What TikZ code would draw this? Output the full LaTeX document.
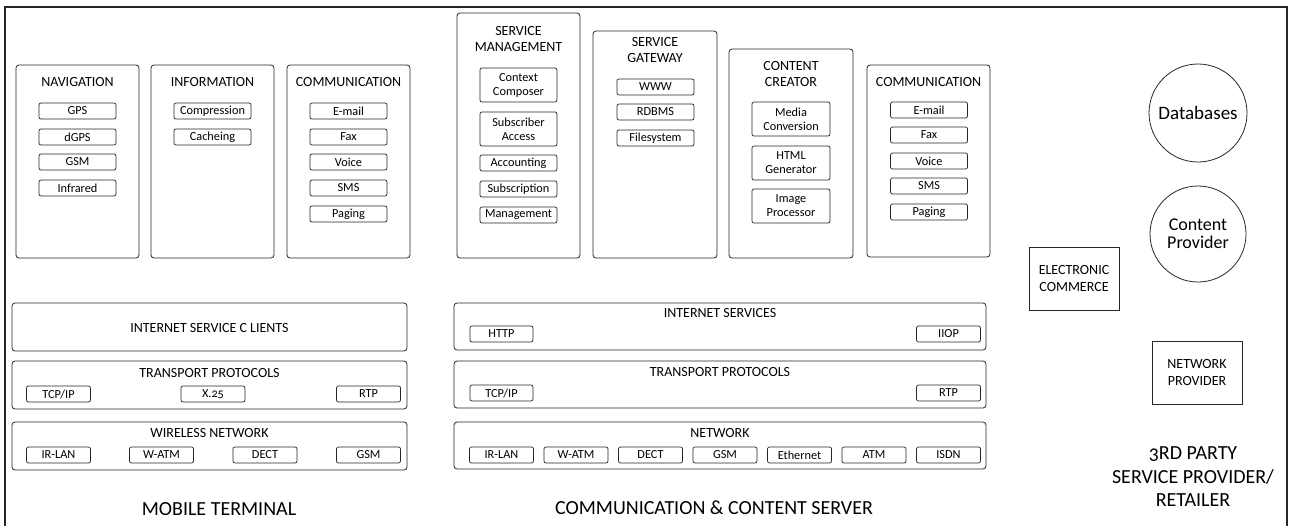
\documentclass[tikz,border=0pt]{standalone}
\usepackage{fontspec}
\setmainfont[Numbers=OldStyle]{Carlito}
\usepackage{tikz}
\usepackage{xcolor}

\tikzset{
  block/.style={draw=black!85, line width=0.8pt, rounded corners=3pt, inner sep=0pt},
  item/.style={draw=black!85, line width=0.7pt, rounded corners=2pt, minimum width=77, minimum height=16, inner sep=0pt, align=center, font=\fontsize{12.3}{14}\selectfont},
  tallitem/.style={item, minimum height=34},
  layeritem/.style={item, minimum width=64},
  title/.style={align=center, inner sep=0pt, font=\fontsize{14}{16}\selectfont},
  caption/.style={align=center, inner sep=0pt, font=\fontsize{20}{23.5}\selectfont},
  party/.style={draw=black!85, line width=0.8pt, inner sep=0pt, align=center, font=\fontsize{14}{17}\selectfont}
}

\begin{document}
\begin{tikzpicture}[x=1pt,y=-1pt]
\useasboundingbox (0,0) rectangle (1289,525);
\draw [line width=1.3pt,black!85] (5,527) -- (5,7) -- (1287,7) -- (1287,527);

% mobile terminal, applications
\node [block,minimum width=123,minimum height=193] (nav) at (77.5,161.5) {};
\node [title] (navtitle) at (77.5,82) {NAVIGATION};
\node [item] (gps) at (77.5,111) {GPS};
\node [item] (dgps) at (77.5,137) {dGPS};
\node [item] (gsmnav) at (77.5,162) {GSM};
\node [item] (infrared) at (77.5,188) {Infrared};

\node [block,minimum width=123,minimum height=193] (info) at (212.5,161.5) {};
\node [title] (infotitle) at (212.5,82) {INFORMATION};
\node [item] (compression) at (212.5,111) {Compression};
\node [item] (cacheing) at (212.5,137) {Cacheing};

\node [block,minimum width=123,minimum height=193] (comml) at (348.5,161.5) {};
\node [title] (commltitle) at (348.5,82) {COMMUNICATION};
\node [item] (emaill) at (348.5,111) {E-mail};
\node [item] (faxl) at (348.5,137) {Fax};
\node [item] (voicel) at (348.5,162) {Voice};
\node [item] (smsl) at (348.5,188) {SMS};
\node [item] (pagingl) at (348.5,214) {Paging};

% mobile terminal, layers
\node [block,minimum width=395,minimum height=48] (isc) at (209.5,327) {};
\node [title] (isctitle) at (209.5,328) {INTERNET SERVICE C LIENTS};

\node [block,minimum width=395,minimum height=48] (tpl) at (209.5,385) {};
\node [title] (tpltitle) at (209.5,373) {TRANSPORT PROTOCOLS};
\node [layeritem] (tcpl) at (58.5,394) {TCP/IP};
\node [layeritem] (xtf) at (213,394) {X.25};
\node [layeritem] (rtpl) at (368.5,394) {RTP};

\node [block,minimum width=395,minimum height=48] (wnl) at (209.5,446) {};
\node [title] (wnltitle) at (209.5,433) {WIRELESS NETWORK};
\node [layeritem] (irlanl) at (58.5,455) {IR-LAN};
\node [layeritem] (watml) at (161.5,455) {W-ATM};
\node [layeritem] (dectl) at (265,455) {DECT};
\node [layeritem] (gsml) at (368.5,455) {GSM};

\node [caption] (mobile) at (219,509) {MOBILE TERMINAL};

% server, applications
\node [block,minimum width=123,minimum height=245] (smgmt) at (518.5,135.5) {};
\node [title] (smgmttitle) at (518.5,39.5) {SERVICE\\MANAGEMENT};
\node [tallitem] (context) at (518.5,85) {Context\\Composer};
\node [tallitem] (subscriber) at (518.5,129) {Subscriber\\Access};
\node [item] (accounting) at (518.5,163) {Accounting};
\node [item] (subscription) at (518.5,189) {Subscription};
\node [item] (management) at (518.5,215) {Management};

\node [block,minimum width=124,minimum height=227] (sgw) at (655,144.5) {};
\node [title] (sgwtitle) at (655,50) {SERVICE\\GATEWAY};
\node [item] (www) at (655.5,87) {WWW};
\node [item] (rdbms) at (655.5,112) {RDBMS};
\node [item] (filesystem) at (655.5,138) {Filesystem};

\node [block,minimum width=124,minimum height=209] (ccr) at (791,153.5) {};
\node [title] (ccrtitle) at (791,74) {CONTENT\\CREATOR};
\node [tallitem,minimum width=78] (media) at (791,119) {Media\\Conversion};
\node [tallitem,minimum width=78] (html) at (791,163) {HTML\\Generator};
\node [tallitem,minimum width=78] (image) at (791,206) {Image\\Processor};

\node [block,minimum width=123,minimum height=192] (commr) at (928.5,161) {};
\node [title] (commrtitle) at (928.5,82) {COMMUNICATION};
\node [item] (emailr) at (929,110) {E-mail};
\node [item] (faxr) at (929,135) {Fax};
\node [item] (voicer) at (929,161) {Voice};
\node [item] (smsr) at (929,186) {SMS};
\node [item] (pagingr) at (929,212) {Paging};

% server, layers
\node [block,minimum width=532,minimum height=47] (isv) at (720,326.5) {};
\node [title] (isvtitle) at (720,313) {INTERNET SERVICES};
\node [layeritem,minimum width=63] (http) at (501.5,334) {HTTP};
\node [layeritem] (iiop) at (948.5,334) {IIOP};

\node [block,minimum width=532,minimum height=47] (tps) at (720,384.5) {};
\node [title] (tpstitle) at (720,372) {TRANSPORT PROTOCOLS};
\node [layeritem,minimum width=63] (tcps) at (501.5,393) {TCP/IP};
\node [layeritem] (rtps) at (948.5,393) {RTP};

\node [block,minimum width=532,minimum height=47] (nws) at (720,445.5) {};
\node [title] (nwstitle) at (720,433) {NETWORK};
\node [layeritem] (irlans) at (501.5,455) {IR-LAN};
\node [layeritem] (watms) at (576,455) {W-ATM};
\node [layeritem] (dects) at (650.5,455) {DECT};
\node [layeritem] (gsms) at (725,455) {GSM};
\node [layeritem] (ethernet) at (799.5,455) {Ethernet};
\node [layeritem] (atm) at (874,455) {ATM};
\node [layeritem] (isdn) at (948.5,455) {ISDN};

\node [caption] (server) at (714,508) {COMMUNICATION \& CONTENT SERVER};

% third party
\node [draw=black!85,line width=0.8pt,circle,minimum size=98,inner sep=0pt,font=\fontsize{19}{19}\selectfont] (db) at (1198,113) {Databases};
\node [draw=black!85,line width=0.8pt,circle,minimum size=96,inner sep=0pt,align=center,font=\fontsize{18}{18}\selectfont] (cprov) at (1198,234) {Content\\Provider};
\node [party,minimum width=90,minimum height=63] (ecom) at (1074,278.5) {ELECTRONIC\\COMMERCE};
\node [party,minimum width=90,minimum height=63] (netprov) at (1197,372.5) {NETWORK\\PROVIDER};
\node [caption] (third) at (1193,477) {3RD PARTY\\SERVICE PROVIDER/\\RETAILER};
\end{tikzpicture}
\end{document}
